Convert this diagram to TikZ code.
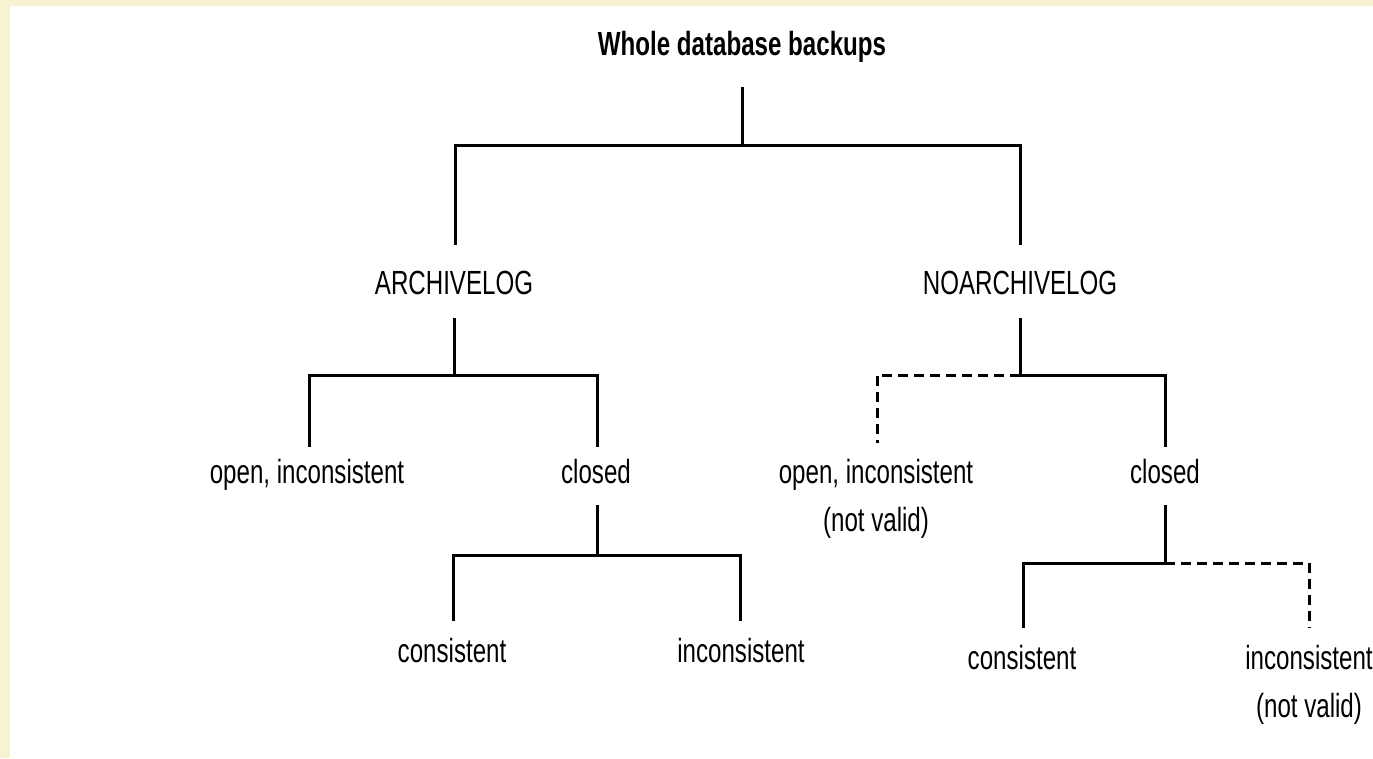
\documentclass[tikz,border=0pt]{standalone}
\usepackage{fontspec}
\setmainfont{Liberation Sans}[FakeStretch=0.72]
\definecolor{paper}{RGB}{246,242,210}
\tikzset{
  lbl/.style={inner sep=0pt, anchor=base, align=center,
              font=\fontsize{33.5}{48}\selectfont},
  ttl/.style={lbl, font=\fontsize{33.5}{48}\selectfont\bfseries},
  link/.style={line width=3pt, line join=miter, black},
  invalid/.style={link, dash pattern=on 10pt off 6pt},
}
\begin{document}
\begin{tikzpicture}[x=1pt, y=-1pt]
  % page: cream strip on top and left, white sheet
  \useasboundingbox (0,0) rectangle (1373,758);
  \fill[paper] (0,0) rectangle (1373,758);
  \fill[white] (10,6) rectangle (1373,758);

  % labels (two-line labels sit on the baseline of their last line)
  \node[ttl] (root)   at (742,55)  {Whole database backups};
  \node[lbl] (arch)   at (454,294) {ARCHIVELOG};
  \node[lbl] (noarch) at (1020,294) {NOARCHIVELOG};
  \node[lbl] (aopen)  at (307,483) {open, inconsistent};
  \node[lbl] (aclose) at (596,483) {closed};
  \node[lbl] (acons)  at (452,662) {consistent};
  \node[lbl] (aincon) at (741,662) {inconsistent};
  \node[lbl] (nopen)  at (876,531) {open, inconsistent\\(not valid)};
  \node[lbl] (nclose) at (1165,483) {closed};
  \node[lbl] (ncons)  at (1022,669) {consistent};
  \node[lbl] (nincon) at (1309,717) {inconsistent\\(not valid)};

  % top level
  \draw[link] ([yshift=-32pt]root.base) -- ([yshift=-90pt]root.base)
              -| ([xshift=1pt,yshift=49pt]arch.base);
  \draw[link] ([yshift=-90pt]root.base) -| ([yshift=49pt]noarch.base);

  % ARCHIVELOG branch
  \draw[link] ([yshift=-24pt]arch.base) -- ([yshift=-81pt]arch.base)
              -| ([xshift=2pt,yshift=36pt]aopen.base);
  \draw[link] ([yshift=-81pt]arch.base) -| ([xshift=1pt,yshift=36pt]aclose.base);
  \draw[link] ([xshift=1pt,yshift=-22pt]aclose.base) -- ([xshift=1pt,yshift=-72pt]aclose.base)
              -| ([xshift=1pt,yshift=41pt]acons.base);
  \draw[link] ([xshift=1pt,yshift=-72pt]aclose.base) -| ([xshift=-1pt,yshift=41pt]aincon.base);

  % NOARCHIVELOG branch
  \draw[link] ([yshift=-24pt]noarch.base) -- ([yshift=-81pt]noarch.base)
              -| ([yshift=36pt]nclose.base);
  \draw[invalid] ([yshift=-81pt]noarch.base) -| ([xshift=1pt,yshift=88pt]nopen.base);
  \draw[link] ([yshift=-22pt]nclose.base) -- ([yshift=-80pt]nclose.base)
              -| ([xshift=1pt,yshift=41pt]ncons.base);
  \draw[invalid] ([yshift=-80pt]nclose.base) -| ([yshift=89pt]nincon.base);
\end{tikzpicture}
\end{document}
